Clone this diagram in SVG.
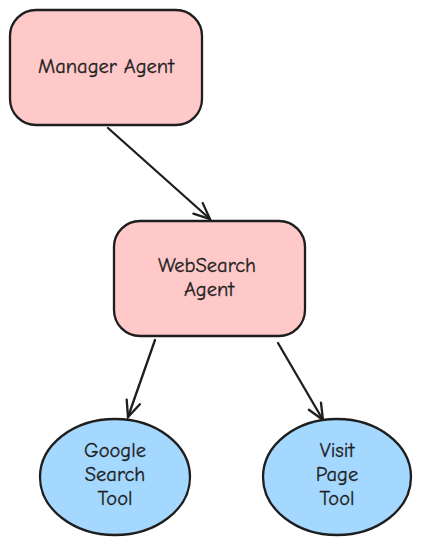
<svg xmlns="http://www.w3.org/2000/svg" width="421" height="548" viewBox="0 0 421 548">
<style>
.box{fill:#ffc9c9;stroke:#1e1e1e;stroke-width:2.3}
.tool{fill:#a5d8ff;stroke:#1e1e1e;stroke-width:2.3}
.lbl{font-family:"Comic Neue","Liberation Sans",sans-serif;font-size:20.5px;fill:#1e1e1e;stroke:#1e1e1e;stroke-width:0.3;text-anchor:middle;dominant-baseline:middle}
.edge{stroke:#1e1e1e;stroke-width:2.3;fill:none;stroke-linecap:round}
</style>
<defs>
<marker id="arr" viewBox="0 0 20 20" refX="18" refY="10" markerWidth="20" markerHeight="20" markerUnits="userSpaceOnUse" orient="auto">
<path d="M2,3 L18,10 L2,17" fill="none" stroke="#1e1e1e" stroke-width="2.3" stroke-linecap="round"/>
</marker>
</defs>
<g id="edges">
<line class="edge" x1="108" y1="128" x2="210" y2="219" marker-end="url(#arr)"/>
<line class="edge" x1="155" y1="340" x2="128" y2="417" marker-end="url(#arr)"/>
<line class="edge" x1="278" y1="343" x2="323" y2="420" marker-end="url(#arr)"/>
</g>
<g id="manager">
<rect class="box" x="10" y="10" width="192" height="115" rx="26"/>
<text class="lbl" x="106" y="68">Manager Agent</text>
</g>
<g id="websearch">
<rect class="box" x="114" y="221" width="191" height="115" rx="26"/>
<text class="lbl" x="207" y="267">WebSearch</text>
<text class="lbl" x="209" y="291">Agent</text>
</g>
<g id="google">
<ellipse class="tool" cx="115" cy="477" rx="75" ry="58"/>
<text class="lbl" x="115" y="452">Google</text>
<text class="lbl" x="115" y="476">Search</text>
<text class="lbl" x="115" y="500">Tool</text>
</g>
<g id="visit">
<ellipse class="tool" cx="337" cy="477" rx="74" ry="58"/>
<text class="lbl" x="337" y="452">Visit</text>
<text class="lbl" x="337" y="476">Page</text>
<text class="lbl" x="337" y="500">Tool</text>
</g>
</svg>
